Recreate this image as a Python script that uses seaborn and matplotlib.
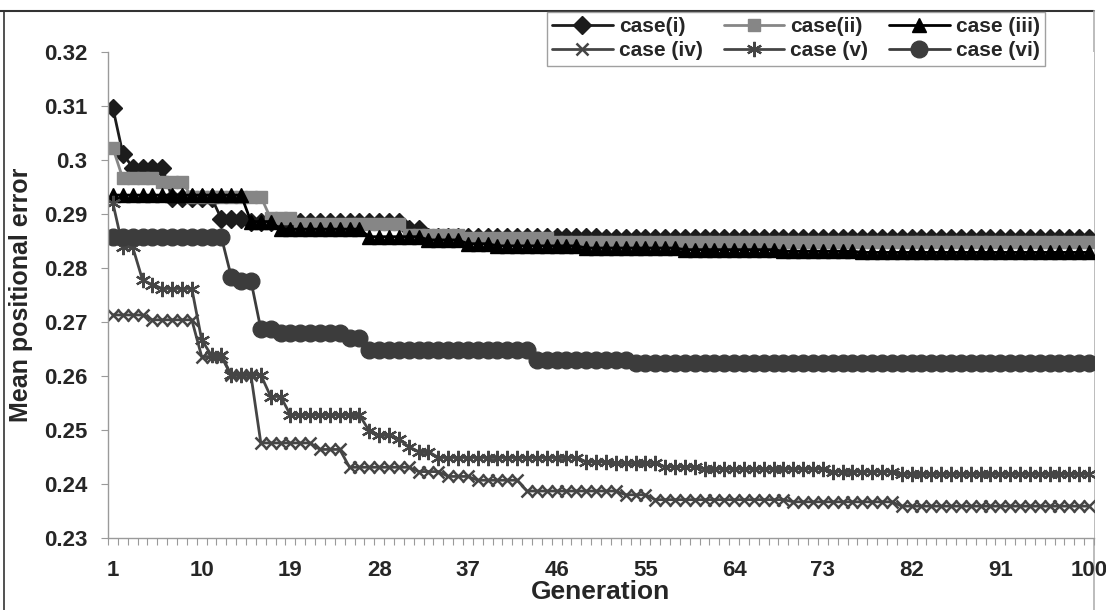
import numpy as np
import matplotlib
matplotlib.use("Agg")
import matplotlib.pyplot as plt
import seaborn as sns
from matplotlib.lines import Line2D
from matplotlib.ticker import FuncFormatter

# ===== data =====
generation = list(range(1, 101))

case_i = [
    0.3096, 0.3012, 0.2986, 0.2986, 0.2986, 0.2986, 0.2930, 0.2930, 0.2930, 0.2930,
    0.2930, 0.2891, 0.2891, 0.2891, 0.2885, 0.2885, 0.2885, 0.2885, 0.2885, 0.2885,
    0.2885, 0.2885, 0.2885, 0.2885, 0.2885, 0.2885, 0.2885, 0.2885, 0.2885, 0.2885,
    0.2873, 0.2873, 0.2857, 0.2857, 0.2857, 0.2857, 0.2857, 0.2857, 0.2857, 0.2857,
    0.2857, 0.2857, 0.2857, 0.2857, 0.2857, 0.2857, 0.2857, 0.2857, 0.2857, 0.2857,
    0.2855, 0.2855, 0.2855, 0.2855, 0.2855, 0.2855, 0.2855, 0.2855, 0.2855, 0.2855,
    0.2855, 0.2855, 0.2855, 0.2855, 0.2855, 0.2855, 0.2855, 0.2855, 0.2855, 0.2855,
    0.2855, 0.2855, 0.2855, 0.2855, 0.2855, 0.2855, 0.2855, 0.2855, 0.2855, 0.2855,
    0.2855, 0.2855, 0.2855, 0.2855, 0.2855, 0.2855, 0.2855, 0.2855, 0.2855, 0.2855,
    0.2855, 0.2855, 0.2855, 0.2855, 0.2855, 0.2855, 0.2855, 0.2855, 0.2855, 0.2855,
]

case_ii = [
    0.3022, 0.2966, 0.2966, 0.2966, 0.2966, 0.2960, 0.2960, 0.2960, 0.2932, 0.2932,
    0.2932, 0.2932, 0.2932, 0.2932, 0.2932, 0.2932, 0.2892, 0.2892, 0.2892, 0.2881,
    0.2881, 0.2881, 0.2881, 0.2881, 0.2881, 0.2881, 0.2881, 0.2881, 0.2881, 0.2881,
    0.2862, 0.2862, 0.2862, 0.2862, 0.2862, 0.2862, 0.2855, 0.2855, 0.2855, 0.2855,
    0.2855, 0.2855, 0.2855, 0.2855, 0.2855, 0.2848, 0.2848, 0.2848, 0.2848, 0.2848,
    0.2848, 0.2848, 0.2848, 0.2848, 0.2848, 0.2848, 0.2848, 0.2848, 0.2848, 0.2848,
    0.2848, 0.2848, 0.2848, 0.2848, 0.2848, 0.2848, 0.2848, 0.2848, 0.2848, 0.2848,
    0.2848, 0.2848, 0.2848, 0.2848, 0.2848, 0.2848, 0.2848, 0.2848, 0.2848, 0.2848,
    0.2848, 0.2848, 0.2848, 0.2848, 0.2848, 0.2848, 0.2848, 0.2848, 0.2848, 0.2848,
    0.2848, 0.2848, 0.2848, 0.2848, 0.2848, 0.2848, 0.2848, 0.2848, 0.2848, 0.2848,
]

case_iii = [
    0.2935, 0.2935, 0.2935, 0.2935, 0.2935, 0.2935, 0.2935, 0.2935, 0.2935, 0.2935,
    0.2935, 0.2935, 0.2935, 0.2935, 0.2886, 0.2886, 0.2886, 0.2872, 0.2872, 0.2872,
    0.2872, 0.2872, 0.2872, 0.2872, 0.2872, 0.2872, 0.2858, 0.2858, 0.2858, 0.2858,
    0.2858, 0.2858, 0.2852, 0.2852, 0.2852, 0.2852, 0.2845, 0.2845, 0.2845, 0.2841,
    0.2841, 0.2841, 0.2841, 0.2841, 0.2841, 0.2841, 0.2841, 0.2841, 0.2837, 0.2837,
    0.2837, 0.2837, 0.2837, 0.2837, 0.2837, 0.2837, 0.2837, 0.2837, 0.2834, 0.2834,
    0.2834, 0.2834, 0.2834, 0.2834, 0.2834, 0.2834, 0.2834, 0.2834, 0.2831, 0.2831,
    0.2831, 0.2831, 0.2831, 0.2831, 0.2831, 0.2831, 0.2829, 0.2829, 0.2829, 0.2829,
    0.2829, 0.2829, 0.2829, 0.2829, 0.2829, 0.2829, 0.2829, 0.2829, 0.2829, 0.2829,
    0.2829, 0.2829, 0.2829, 0.2829, 0.2829, 0.2829, 0.2829, 0.2829, 0.2829, 0.2829,
]

case_iv = [
    0.2713, 0.2713, 0.2713, 0.2713, 0.2704, 0.2704, 0.2704, 0.2704, 0.2704, 0.2636,
    0.2636, 0.2636, 0.2601, 0.2601, 0.2601, 0.2476, 0.2476, 0.2476, 0.2476, 0.2476,
    0.2476, 0.2464, 0.2464, 0.2464, 0.2431, 0.2431, 0.2431, 0.2431, 0.2431, 0.2431,
    0.2431, 0.2423, 0.2423, 0.2423, 0.2414, 0.2414, 0.2414, 0.2407, 0.2407, 0.2407,
    0.2407, 0.2407, 0.2387, 0.2387, 0.2387, 0.2387, 0.2387, 0.2387, 0.2387, 0.2387,
    0.2387, 0.2387, 0.2380, 0.2380, 0.2380, 0.2371, 0.2371, 0.2371, 0.2371, 0.2371,
    0.2371, 0.2371, 0.2371, 0.2371, 0.2371, 0.2371, 0.2371, 0.2371, 0.2371, 0.2367,
    0.2367, 0.2367, 0.2367, 0.2367, 0.2367, 0.2367, 0.2367, 0.2367, 0.2367, 0.2367,
    0.2359, 0.2359, 0.2359, 0.2359, 0.2359, 0.2359, 0.2359, 0.2359, 0.2359, 0.2359,
    0.2359, 0.2359, 0.2359, 0.2359, 0.2359, 0.2359, 0.2359, 0.2359, 0.2359, 0.2359,
]

case_v = [
    0.2920, 0.2839, 0.2839, 0.2778, 0.2769, 0.2762, 0.2762, 0.2762, 0.2762, 0.2667,
    0.2638, 0.2638, 0.2602, 0.2602, 0.2602, 0.2602, 0.2562, 0.2562, 0.2528, 0.2528,
    0.2528, 0.2528, 0.2528, 0.2528, 0.2528, 0.2528, 0.2498, 0.2490, 0.2490, 0.2483,
    0.2469, 0.2460, 0.2460, 0.2449, 0.2449, 0.2449, 0.2449, 0.2449, 0.2449, 0.2449,
    0.2449, 0.2449, 0.2449, 0.2449, 0.2449, 0.2449, 0.2449, 0.2449, 0.2441, 0.2441,
    0.2441, 0.2438, 0.2438, 0.2438, 0.2438, 0.2438, 0.2432, 0.2432, 0.2432, 0.2432,
    0.2428, 0.2428, 0.2428, 0.2428, 0.2428, 0.2428, 0.2428, 0.2428, 0.2428, 0.2428,
    0.2428, 0.2428, 0.2428, 0.2423, 0.2423, 0.2423, 0.2423, 0.2423, 0.2423, 0.2423,
    0.2418, 0.2418, 0.2418, 0.2418, 0.2418, 0.2418, 0.2418, 0.2418, 0.2418, 0.2418,
    0.2418, 0.2418, 0.2418, 0.2418, 0.2418, 0.2418, 0.2418, 0.2418, 0.2418, 0.2418,
]

case_vi = [
    0.2857, 0.2857, 0.2857, 0.2857, 0.2857, 0.2857, 0.2857, 0.2857, 0.2857, 0.2857,
    0.2857, 0.2857, 0.2784, 0.2776, 0.2776, 0.2687, 0.2687, 0.2680, 0.2680, 0.2680,
    0.2680, 0.2680, 0.2680, 0.2680, 0.2670, 0.2670, 0.2648, 0.2648, 0.2648, 0.2648,
    0.2648, 0.2648, 0.2648, 0.2648, 0.2648, 0.2648, 0.2648, 0.2648, 0.2648, 0.2648,
    0.2648, 0.2648, 0.2648, 0.2630, 0.2630, 0.2630, 0.2630, 0.2630, 0.2630, 0.2630,
    0.2630, 0.2630, 0.2630, 0.2624, 0.2624, 0.2624, 0.2624, 0.2624, 0.2624, 0.2624,
    0.2624, 0.2624, 0.2624, 0.2624, 0.2624, 0.2624, 0.2624, 0.2624, 0.2624, 0.2624,
    0.2624, 0.2624, 0.2624, 0.2624, 0.2624, 0.2624, 0.2624, 0.2624, 0.2624, 0.2624,
    0.2624, 0.2624, 0.2624, 0.2624, 0.2624, 0.2624, 0.2624, 0.2624, 0.2624, 0.2624,
    0.2624, 0.2624, 0.2624, 0.2624, 0.2624, 0.2624, 0.2624, 0.2624, 0.2624, 0.2624,
]

series_labels = ["case(i)", "case(ii)", "case (iii)", "case (iv)", "case (v)", "case (vi)"]
x_tick_labels = ["1", "10", "19", "28", "37", "46", "55", "64", "73", "82", "91", "100"]

# ===== style =====
sns.set_style("white")
plt.rcParams["font.family"] = ["Liberation Sans", "DejaVu Sans"]
plt.rcParams["font.weight"] = "bold"

W, H = 1106, 610
fig = plt.figure(figsize=(W / 100, H / 100), dpi=100)
ax = fig.add_axes([108 / W, 72 / H, 986 / W, 486 / H])

# (label, data, marker, size, colour, edge width)
styles = [
    (series_labels[0], case_i, "D", 9.5, "#1c1c1c", 1.0),
    (series_labels[1], case_ii, "s", 8.5, "#868686", 1.0),
    (series_labels[2], case_iii, "^", 10.5, "#000000", 1.0),
    (series_labels[3], case_iv, "x", 9, "#454545", 1.8),
    (series_labels[4], case_v, (6, 2, 0), 11, "#454545", 1.6),
    (series_labels[5], case_vi, "o", 12, "#3c3c3c", 1.0),
]

for lab, vals, mk, ms, col, mew in styles:
    sns.lineplot(
        x=generation, y=vals, ax=ax,
        color=col, linewidth=2.0,
        marker=mk, markersize=ms,
        markeredgecolor=col, markerfacecolor=col, markeredgewidth=mew,
        label=lab,
    )

# ===== axes =====
ax.set_xlim(0.5, 100.5)
ax.set_ylim(0.23, 0.32)
ax.set_xticks([int(t) for t in x_tick_labels])
ax.set_xticklabels(x_tick_labels)
ax.set_xticks(np.arange(0.5, 101, 1.0), minor=True)
ax.set_yticks(np.arange(0.23, 0.3201, 0.01))
ax.yaxis.set_major_formatter(FuncFormatter(lambda v, p: f"{v:.2f}".rstrip("0")))

ax.tick_params(axis="x", which="major", length=0, pad=16, labelsize=16)
ax.tick_params(axis="x", which="minor", length=5, width=0.8, color="#9a9a9a", direction="out", bottom=True)
ax.tick_params(axis="y", which="major", length=5, width=0.8, color="#9a9a9a", direction="out", left=True, pad=10, labelsize=16)

for side in ["top", "right"]:
    ax.spines[side].set_visible(False)
for side in ["left", "bottom"]:
    ax.spines[side].set_color("#9a9a9a")
    ax.spines[side].set_linewidth(1.0)

ax.set_xlabel("Generation", fontsize=19, fontweight="bold", labelpad=-1)
ax.set_ylabel("Mean positional error", fontsize=18, fontweight="bold", labelpad=8)
ax.grid(False)

# ===== legend (row-wise, 3 columns) =====
handles, labels = ax.get_legend_handles_labels()
if ax.get_legend() is not None:
    ax.get_legend().remove()
order = [0, 3, 1, 4, 2, 5]
leg = fig.legend(
    [handles[i] for i in order], [labels[i] for i in order],
    ncol=3, loc="upper left", bbox_to_anchor=(547 / W, 1 - 12 / H),
    borderaxespad=0,
    frameon=True, fancybox=False, edgecolor="#a0a0a0", framealpha=1,
    prop={"size": 15, "weight": "bold"},
    handlelength=2.9, handletextpad=0.3, columnspacing=1.0,
    borderpad=0.25, labelspacing=0.25,
)
leg.get_frame().set_linewidth(1.0)

# ===== chart area border =====
fig.add_artist(Line2D([0, 1094 / W], [1 - 11 / H, 1 - 11 / H], transform=fig.transFigure,
                      color="#333333", lw=1.5, zorder=0))
fig.add_artist(Line2D([4 / W, 4 / W], [0, 1 - 11 / H], transform=fig.transFigure,
                      color="#333333", lw=1.2, zorder=0))
fig.add_artist(Line2D([1094 / W, 1094 / W], [0, 1 - 11 / H], transform=fig.transFigure,
                      color="#b0b0b0", lw=1.2, zorder=0))

fig.savefig("out.png", dpi=100)
